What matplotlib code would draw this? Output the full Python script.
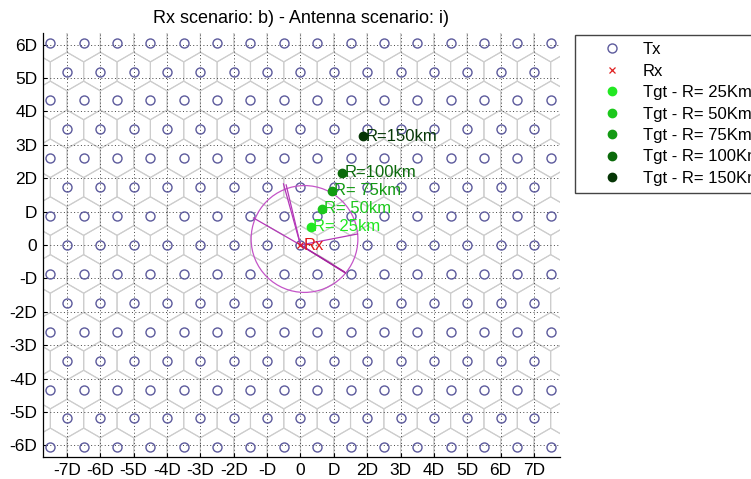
import numpy as np
import matplotlib
matplotlib.use("Agg")
import matplotlib.pyplot as plt
from matplotlib.patches import RegularPolygon, Circle
from matplotlib.collections import PatchCollection
from matplotlib.lines import Line2D

plt.rcParams['font.family'] = ['Liberation Sans', 'DejaVu Sans']

# ---- data (all distances in units of the cell spacing D) ----
row_index = list(range(-7, 8))        # hex rows of transmitters
col_index = list(range(-8, 9))        # columns inside a row
rx_pos = (0.0, 0.0)

tgt_ranges = ["25", "50", "75", "100", "150"]
tgt_x = [0.31, 0.63, 0.94, 1.25, 1.88]
tgt_y = [0.54, 1.08, 1.62, 2.17, 3.25]
tgt_labels = ["R= 25km", "R= 50km", "R= 75km", "R=100km", "R=150km"]
tgt_colors = ["#22e822", "#1cc81c", "#139a13", "#0b6a0b", "#063606"]

# antenna coverage: circle and beam edges from the receiver
cov_center = (0.12, 0.18)
cov_radius = 1.60
beam_x = [-1.41, -0.51, -0.43, 1.71]
beam_y = [0.81, 1.83, 1.80, 0.33]
null_x = [1.31, 1.35]
null_y = [-0.80, -0.84]

xtick_vals = list(range(-7, 8))
xtick_labels = ["-7D", "-6D", "-5D", "-4D", "-3D", "-2D", "-D", "0",
                "D", "2D", "3D", "4D", "5D", "6D", "7D"]
ytick_vals = list(range(-6, 7))
ytick_labels = ["-6D", "-5D", "-4D", "-3D", "-2D", "-D", "0",
                "D", "2D", "3D", "4D", "5D", "6D"]

title = "Rx scenario: b) - Antenna scenario: i)"

# ---- figure ----
fig = plt.figure(figsize=(7.51, 4.79), dpi=100)
ax = fig.add_axes([43 / 751, 1 - 457 / 479, 517 / 751, 424 / 479])

h = np.sqrt(3) / 2
tx_x, tx_y = [], []
for j in row_index:
    for k in col_index:
        tx_x.append(k + 0.5 * (j % 2))
        tx_y.append(j * h)

# hexagonal cells
hexes = [RegularPolygon((x, y), numVertices=6, radius=1 / np.sqrt(3), orientation=0)
         for x, y in zip(tx_x, tx_y)]
ax.add_collection(PatchCollection(hexes, facecolor="none", edgecolor="#cdcdcd",
                                  linewidth=0.8, zorder=0.3))

# transmitters
ax.plot(tx_x, tx_y, linestyle="none", marker="o", markersize=6.5,
        markerfacecolor="none", markeredgecolor="#5c5a9c", markeredgewidth=1.0,
        zorder=2)

# antenna coverage
ax.add_patch(Circle(cov_center, cov_radius, facecolor="none", edgecolor="#c455c8",
                    linewidth=0.9, zorder=2.5))
for bx, by in zip(beam_x, beam_y):
    ax.plot([rx_pos[0], bx], [rx_pos[1], by], color="#b437b8", linewidth=0.9, zorder=2.6)
for bx, by in zip(null_x, null_y):
    ax.plot([rx_pos[0], bx], [rx_pos[1], by], color="#a4249e", linewidth=1.0, zorder=2.6)

# receiver
ax.plot([rx_pos[0]], [rx_pos[1]], linestyle="none", marker="x", markersize=5,
        color="#e02020", markeredgewidth=0.9, zorder=3)
ax.annotate("Rx", rx_pos, xytext=(2, 0), textcoords="offset points",
            ha="left", va="center", color="#e01818", fontsize=12, zorder=4)

# targets
for x, y, lab, c in zip(tgt_x, tgt_y, tgt_labels, tgt_colors):
    ax.plot([x], [y], linestyle="none", marker="o", markersize=6,
            color=c, zorder=3)
    ax.annotate(lab, (x, y), xytext=(1.5, 0), textcoords="offset points",
                ha="left", va="center", color=c, fontsize=12, zorder=4)

ax.set_xlim(-7.72, 7.78)
ax.set_ylim(-6.35, 6.35)
ax.set_xticks(xtick_vals)
ax.set_xticklabels(xtick_labels)
ax.set_yticks(ytick_vals)
ax.set_yticklabels(ytick_labels)
ax.tick_params(direction="in", length=3, width=0.8, labelsize=12.5, pad=4,
               top=False, right=False)
for side in ("top", "right"):
    ax.spines[side].set_visible(False)
for side in ("left", "bottom"):
    ax.spines[side].set_linewidth(0.9)
ax.set_axisbelow(True)
ax.grid(True, linestyle=(0, (1, 2.5)), color="#444444", linewidth=0.7, zorder=0.5)
ax.set_title(title, fontsize=13, pad=7)

# legend (runs past the right edge of the figure)
handles = [Line2D([], [], linestyle="none", marker="o", markersize=6.5,
                  markerfacecolor="none", markeredgecolor="#5c5a9c"),
           Line2D([], [], linestyle="none", marker="x", markersize=5,
                  color="#e02020", markeredgewidth=0.9)]
labels = ["Tx", "Rx"]
for r, c in zip(tgt_ranges, tgt_colors):
    handles.append(Line2D([], [], linestyle="none", marker="o", markersize=6, color=c))
    labels.append("Tgt - R= " + r + "Km")
fig.legend(handles, labels, loc="upper left", bbox_to_anchor=(575 / 751, 1 - 35 / 479),
           fontsize=12, frameon=True, fancybox=False, edgecolor="#444444",
           framealpha=1, borderpad=0.42, handlelength=3.6, handletextpad=0.05,
           labelspacing=0.39, borderaxespad=0)

fig.savefig("out.png", dpi=100, facecolor="white")
